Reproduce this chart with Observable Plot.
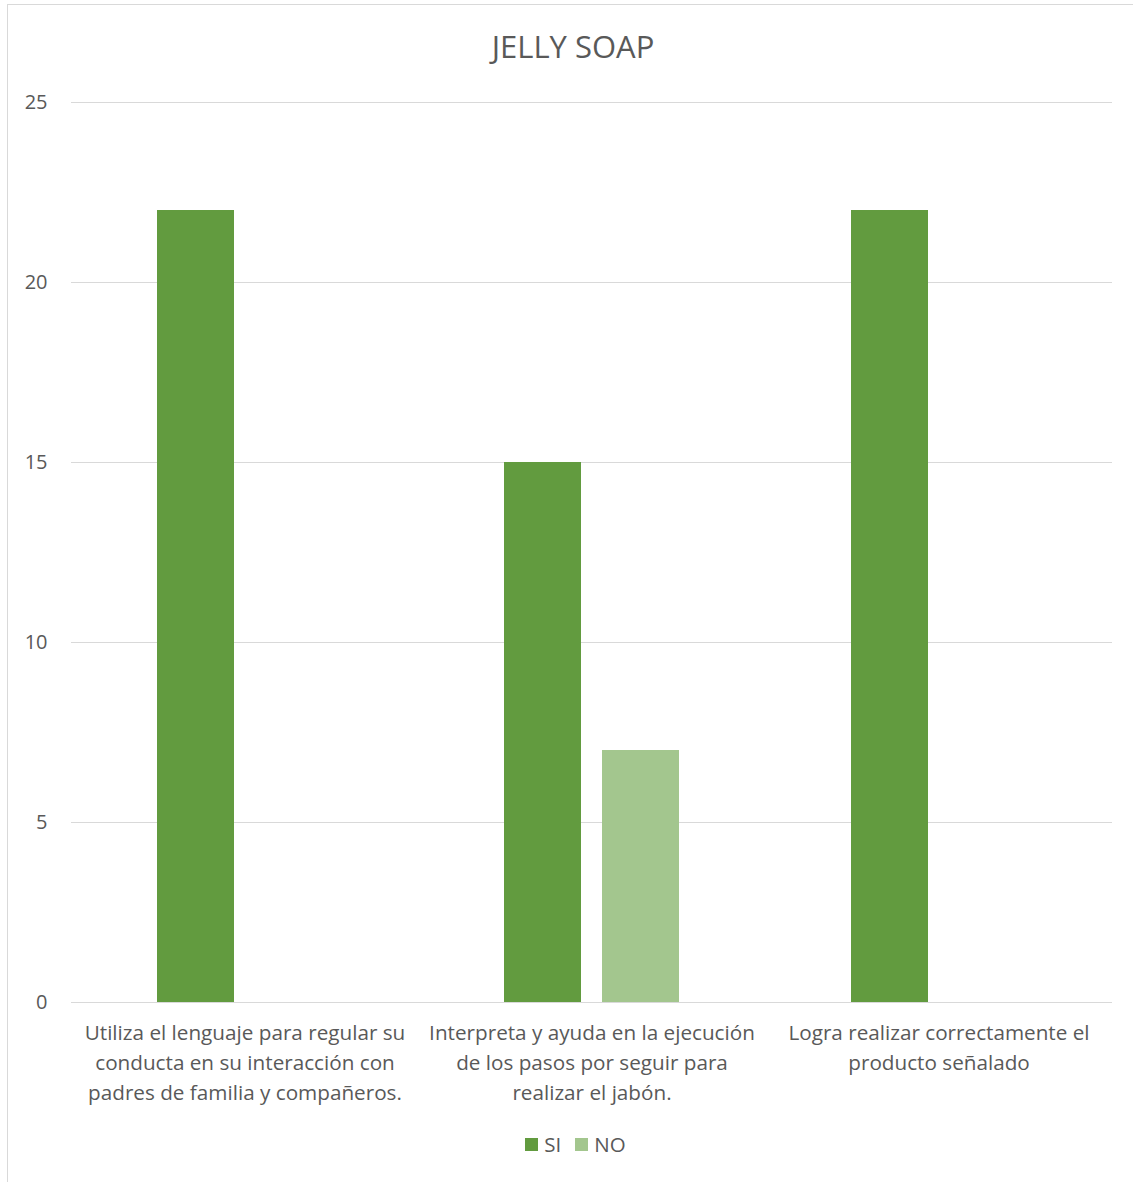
<!DOCTYPE html>
<html>
<head>
<meta charset="utf-8">
<script src="https://cdn.jsdelivr.net/npm/d3@7"></script>
<script src="https://cdn.jsdelivr.net/npm/@observablehq/plot@0.6"></script>
<style>
  html, body { margin: 0; padding: 0; background: #fff; }
  body { width: 1133px; height: 1182px; position: relative; overflow: hidden; font-family: "Open Sans", Lato, sans-serif; }
  #frame { position: absolute; left: 7px; top: 4px; width: 1140px; height: 1190px; border: 1px solid #d9d9d9; box-sizing: border-box; }
  #title { position: absolute; left: 0; width: 1146px; top: 25px; text-align: center; font-size: 31px; color: #595959; }
  #chart { position: absolute; left: 0; top: 0; }
  #legend { position: absolute; left: 0; width: 1133px; top: 1130px; display: flex; justify-content: center; align-items: center; font-size: 20.5px; color: #595959; padding-left: 18px; box-sizing: border-box; }
  .sw { display: inline-block; width: 13px; height: 13px; margin-right: 6px; }
  .item { display: inline-flex; align-items: center; margin: 0 7px; }
</style>
</head>
<body>
<div id="frame"></div>
<div id="title">JELLY SOAP</div>
<div id="chart"></div>
<div id="legend"></div>
<script>
const categories = [
  "Utiliza el lenguaje para regular su conducta en su interacción con padres de familia y compañeros.",
  "Interpreta y ayuda en la ejecución de los pasos por seguir para realizar el jabón.",
  "Logra realizar correctamente el producto señalado"
];
const categoryLabels = [
  "Utiliza el lenguaje para regular su\nconducta en su interacción con\npadres de familia y compañeros.",
  "Interpreta y ayuda en la ejecución\nde los pasos por seguir para\nrealizar el jabón.",
  "Logra realizar correctamente el\nproducto señalado"
];
const series = ["SI", "NO"];
const siValues = [22, 15, 22];
const noValues = [0, 7, 0];
const colors = ["#629B3F", "#A3C68E"];
const yTicks = [0, 5, 10, 15, 20, 25];

const rows = [];
categories.forEach((c, i) => {
  rows.push({category: c, series: "SI", value: siValues[i]});
  rows.push({category: c, series: "NO", value: noValues[i]});
});
const labelOf = new Map(categories.map((c, i) => [c, categoryLabels[i]]));

const width = 1133, height = 1120;
const fs = 20.7;
const chart = Plot.plot({
  width, height,
  marginLeft: 71, marginRight: 21, marginTop: 102, marginBottom: height - 1002,
  style: {fontFamily: "'Open Sans', Lato, sans-serif", fontSize: fs + "px", color: "#595959", background: "transparent"},
  fx: {domain: categories, padding: 0, label: null},
  x: {domain: series, paddingInner: 0.212, paddingOuter: 0.859, axis: null},
  y: {domain: [0, 25], ticks: yTicks, label: null},
  color: {domain: series, range: colors},
  marks: [
    Plot.gridY(yTicks, {stroke: "#d9d9d9", strokeOpacity: 1, strokeWidth: 1}),
    Plot.axisY(yTicks, {tickSize: 0, tickPadding: 24, fontSize: 20, fill: "#595959"}),
    Plot.axisFx({anchor: "bottom", tickSize: 0, tickPadding: 16, fontSize: fs, fill: "#595959", lineHeight: 30 / fs, label: null, tickFormat: d => labelOf.get(d)}),
    Plot.barY(rows, {fx: "category", x: "series", y: "value", fill: "series"})
  ]
});
document.getElementById("chart").appendChild(chart);

const legend = document.getElementById("legend");
series.forEach((s, i) => {
  const it = document.createElement("span");
  it.className = "item";
  const sw = document.createElement("span");
  sw.className = "sw";
  sw.style.background = colors[i];
  it.appendChild(sw);
  it.appendChild(document.createTextNode(s));
  legend.appendChild(it);
});
</script>
</body>
</html>
